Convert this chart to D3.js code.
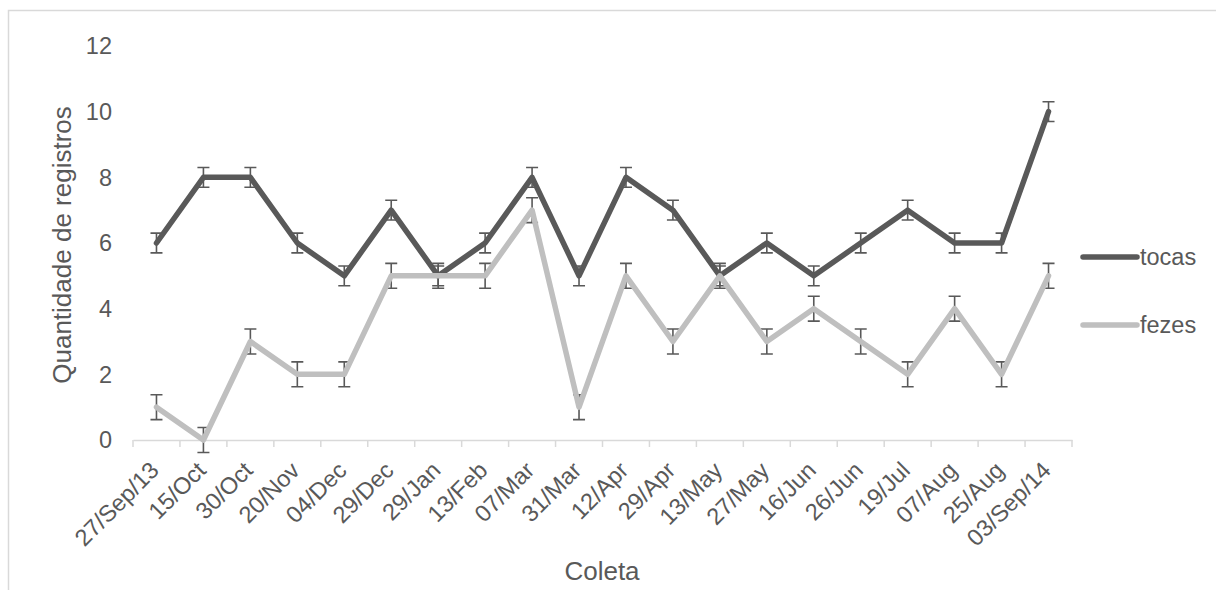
<!DOCTYPE html>
<html>
<head>
<meta charset="utf-8">
<script src="https://cdn.jsdelivr.net/npm/d3@7"></script>
<style>
  body { margin: 0; background: #fff; }
  text { font-family: "Liberation Sans", Arial, sans-serif; fill: #595959; }
</style>
</head>
<body>
<div id="chart"></div>
<script>
// collection dates (x categories)
var coletas = ["27/Sep/13", "15/Oct", "30/Oct", "20/Nov", "04/Dec", "29/Dec", "29/Jan", "13/Feb", "07/Mar", "31/Mar",
               "12/Apr", "29/Apr", "13/May", "27/May", "16/Jun", "26/Jun", "19/Jul", "07/Aug", "25/Aug", "03/Sep/14"];

// counts per collection
var tocas = [6, 8, 8, 6, 5, 7, 5, 6, 8, 5, 8, 7, 5, 6, 5, 6, 7, 6, 6, 10];
var fezes = [1, 0, 3, 2, 2, 5, 5, 5, 7, 1, 5, 3, 5, 3, 4, 3, 2, 4, 2, 5];

// error bar size (same for every point of a series)
var errTocas = 0.3;
var errFezes = 0.38;

var yTicks = [0, 2, 4, 6, 8, 10, 12];

var W = 1216, H = 590;
var margin = {top: 46, right: 144, bottom: 150, left: 133};

var svg = d3.select("#chart").append("svg")
  .attr("width", W)
  .attr("height", H);

// chart area border
svg.append("rect")
  .attr("x", 8.5).attr("y", 10.5)
  .attr("width", 1230).attr("height", 620)
  .attr("fill", "none")
  .attr("stroke", "#d9d9d9")
  .attr("stroke-width", 1.5);

var x = d3.scaleBand()
  .domain(coletas)
  .range([margin.left, 1072]);

var y = d3.scaleLinear()
  .domain([0, 12])
  .range([440, margin.top]);

// x axis
var xAxis = svg.append("g")
  .attr("transform", "translate(0,440)")
  .call(d3.axisBottom(x).tickSize(0).tickFormat(""));
xAxis.select(".domain").attr("stroke", "#d9d9d9").attr("stroke-width", 1.5);

// tick marks on the band edges
var edges = coletas.map(c => x(c)).concat([x.range()[1]]);
svg.selectAll(".xtick")
  .data(edges)
  .enter()
  .append("line")
  .attr("x1", d => d).attr("x2", d => d)
  .attr("y1", 440).attr("y2", 447)
  .attr("stroke", "#d9d9d9")
  .attr("stroke-width", 1.5);

svg.selectAll(".xlabel")
  .data(coletas)
  .enter()
  .append("text")
  .attr("text-anchor", "end")
  .attr("font-size", "23.5px")
  .attr("transform", d => "translate(" + (x(d) + x.bandwidth() / 2 - 2) + ",466) rotate(-45)")
  .attr("dy", "0.35em")
  .text(d => d);

// y axis labels (no line)
svg.selectAll(".ylabel")
  .data(yTicks)
  .enter()
  .append("text")
  .attr("x", 112)
  .attr("y", d => y(d))
  .attr("dy", "0.35em")
  .attr("text-anchor", "end")
  .attr("font-size", "23.5px")
  .text(d => d);

// axis titles
svg.append("text")
  .attr("transform", "translate(71,245) rotate(-90)")
  .attr("text-anchor", "middle")
  .attr("font-size", "26px")
  .text("Quantidade de registros");

svg.append("text")
  .attr("x", 602)
  .attr("y", 580)
  .attr("text-anchor", "middle")
  .attr("font-size", "26px")
  .text("Coleta");

var cx = d => x(d) + x.bandwidth() / 2;

var series = [
  {name: "tocas", values: tocas, err: errTocas, color: "#595959"},
  {name: "fezes", values: fezes, err: errFezes, color: "#bfbfbf"}
];

var line = d3.line()
  .x((d, i) => cx(coletas[i]))
  .y(d => y(d));

series.forEach(s => {
  var g = svg.append("g");
  var pts = s.values.map((v, i) => ({c: coletas[i], v: v}));

  // error bars
  g.selectAll(".err")
    .data(pts)
    .enter()
    .append("path")
    .attr("d", d => {
      var px = cx(d.c), top = y(d.v + s.err), bot = y(d.v - s.err);
      return "M" + (px - 6) + "," + top + "H" + (px + 6) +
             "M" + px + "," + top + "V" + bot +
             "M" + (px - 6) + "," + bot + "H" + (px + 6);
    })
    .attr("fill", "none")
    .attr("stroke", "#595959")
    .attr("stroke-width", 1.6);

  g.append("path")
    .datum(s.values)
    .attr("d", line)
    .attr("fill", "none")
    .attr("stroke", s.color)
    .attr("stroke-width", 5.5)
    .attr("stroke-linejoin", "round")
    .attr("stroke-linecap", "round");
});

// legend
var legend = svg.selectAll(".legend")
  .data(series)
  .enter()
  .append("g")
  .attr("transform", (d, i) => "translate(1083," + (257 + i * 68) + ")");

legend.append("line")
  .attr("x1", 0).attr("x2", 54)
  .attr("stroke", d => d.color)
  .attr("stroke-width", 5.5)
  .attr("stroke-linecap", "round");

legend.append("text")
  .attr("x", 57)
  .attr("dy", "0.35em")
  .attr("font-size", "23.5px")
  .text(d => d.name);
</script>
</body>
</html>
